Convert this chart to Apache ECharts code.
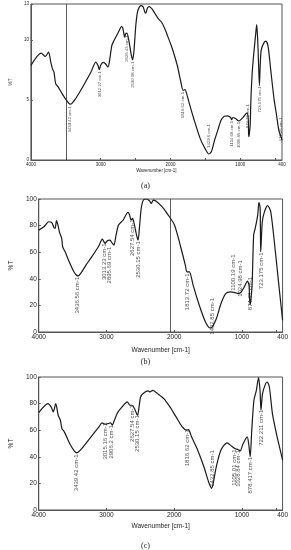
<!DOCTYPE html>
<html><head><meta charset="utf-8">
<script src="https://cdn.jsdelivr.net/npm/echarts@6/dist/echarts.min.js"></script>
<style>html,body{margin:0;padding:0;background:#fff}#c{width:291px;height:550px}</style>
</head><body><div id="c"></div>
<script>
// ---- Panel (a) spectrum ----
const wnA = [4000,3853,3793,3747,3715,3692,3669,3645,3609,3553,3507,3461,3438,3415,3369,3300,3231,3139,3070,3038,3019,3001,2964,2932,2895,2872,2840,2808,2771,2734,2702,2683,2656,2642,2623,2596,2564,2541,2522,2494,2467,2425,2393,2366,2352,2329,2301,2264,2218,2172,2126,2080,2034,1988,1942,1896,1850,1818,1790,1767,1735,1666,1574,1505,1449,1413,1366,1320,1274,1228,1182,1136,1122,1104,1067,1021,998,952,915,897,883,879,874,865,856,846,828,805,777,763,750,736,724,713,699,662,630,598,561,515,478,446,423,400];
const tA = [7.88,8.91,8.63,8.99,8.16,7.61,7.33,6.36,6.09,5.53,5.12,4.76,4.65,4.70,5.03,5.67,6.36,7.33,8.16,7.88,7.52,7.88,8.13,8.02,7.75,8.30,9.54,9.96,10.37,10.79,11.12,11.01,10.24,10.51,10.57,9.96,8.85,8.35,9.13,11.34,12.45,12.86,12.78,12.31,12.23,12.67,12.78,12.59,12.17,11.76,11.48,10.93,10.24,9.54,8.71,7.75,6.50,5.81,5.86,5.53,4.84,3.46,1.80,0.97,0.50,0.69,1.66,2.49,3.32,3.65,3.68,3.54,3.37,3.54,3.46,3.26,3.32,3.60,3.87,3.93,3.32,2.21,1.94,2.35,2.90,4.98,7.19,8.85,10.51,11.29,10.24,8.0,6.2,7.75,9.13,9.74,9.90,9.41,7.47,5.12,3.73,2.49,2.07,1.66];
const annAx = [3438,3019,2623,2541,1818,1449,1122,1012,883,724,423];
const annAy = [4.48,7.41,10.37,8.2,5.67,2.99,3.26,3.18,4.65,6.14,3.54];
const annAt = ['3439.42 cm-1','3012.27 cm-1','2626.43 cm-1','2530.08 cm-1','1816.62 cm-1','1429.6 cm-1','1114.68 cm-1','1006.66 cm-1','874.71 cm-1','723.175 cm-1','417.26 cm-1'];
const vLineA = 3500;
const yTicksA = [0,5,10,13];

// ---- Panel (b) spectrum ----
const wnB = [4000,3922,3853,3807,3775,3757,3739,3716,3693,3661,3647,3610,3555,3486,3441,3418,3372,3303,3234,3120,3060,3037,3019,2996,2950,2913,2890,2858,2822,2753,2684,2661,2638,2615,2592,2556,2533,2510,2487,2455,2409,2363,2340,2308,2271,2180,2088,1996,1905,1836,1813,1776,1721,1630,1538,1469,1437,1377,1309,1240,1171,1102,1057,1011,965,919,896,887,878,868,850,827,804,767,749,731,723,699,667,621,575,506,460,400];
const tB = [76.6,79.1,82.9,82.2,78.4,77.9,83.7,80.4,74.9,70.4,64.1,60.3,53.3,45.7,42.7,42.2,44.7,50.3,55.3,64.1,69.8,67.8,66.6,68.3,69.1,66.6,65.3,72.9,80.4,84.2,89.9,88.4,84.2,85.4,81.7,72.9,69.1,80.4,93.0,99.2,100,98.5,96.7,99.2,98.5,94.2,87.9,80.4,64.1,50.3,45.2,45.2,35.2,20.1,7.5,3.0,3.8,10.1,21.4,28.9,30.2,29.6,28.9,30.2,33.9,38.2,35.2,25.1,20.6,23.9,35.2,72.9,77.9,87.9,97.5,93.0,60.3,82.9,90.5,95.0,90.5,60.3,37.7,8.8];
const annBx = [3428,3028,2959,2611,2533,1813,1437,1120,1028,883,717];
const annBy = [41.5,66.6,64.1,84.7,68.3,44.0,25.6,58.3,54.0,41.5,59.8];
const annBt = ['3436.56 cm-1','3013.23 cm-1','2895.69 cm-1','2627.54 cm-1','2530.15 cm-1','1813.72 cm-1','1432.85 cm-1','1100.19 cm-1','1024.98 cm-1','874.71 cm-1','723.175 cm-1'];
const vLineB = 2060;

// ---- Panel (c) spectrum ----
const wnC = [4000,3863,3818,3786,3749,3713,3681,3658,3622,3544,3476,3439,3385,3248,3111,3066,3020,2975,2938,2915,2883,2838,2769,2692,2655,2619,2587,2541,2519,2496,2450,2382,2359,2314,2245,2154,2063,1972,1881,1812,1789,1744,1653,1562,1493,1448,1425,1379,1311,1220,1151,1106,1060,1024,992,923,901,878,855,823,787,755,733,719,696,650,627,595,550,491,446,400];
const tC = [73.25,80,77.5,73.75,80,71.25,67.5,61.25,58.75,50,44.5,43,45,53.75,62.5,65.5,64.5,65,65.5,63.75,67.5,73,77.5,81.25,78.75,78.75,76.25,71.25,77.5,85,88,89.5,88.8,90,87.5,83.75,77.5,70,62.5,60,60.5,55,45,32.5,21.25,16.25,20,32.5,45,50.5,48,46.25,45.5,44.5,48.75,55,50,40,60,82.5,90,99.5,90,75,87.5,95,96.25,92.5,72.5,57.5,47.5,37.5];
const annCx = [3439,3020,2929,2619,2542,1813,1434,1106,1052,878,719];
const annCy = [41.75,65.5,63.75,78.75,71.25,60.5,45,45.5,45,40,75.5];
const annCt = ['3439.42 cm-1','3015.16 cm-1','2906.2 cm-1','2627.54 cm-1','2530.15 cm-1','1816.62 cm-1','1432.85 cm-1','1105.01 cm-1','1028.84 cm-1','878.417 cm-1','722.211 cm-1'];

const xLabelVals = [4000,3000,2000,1000,400];
const xTickValsA = [4000,3500,3000,2500,2000,1500,1000,500];
const xTickValsBC = [4000,3000,2000,1000,500];
const captions = ['(a)','(b)','(c)'];
const xName = 'Wavenumber [cm-1]';
const yName = '%T';

const pairs = (xs, ys) => xs.map((x, i) => [x, ys[i]]);
const ann = (xs, ys, ts) => xs.map((x, i) => ({ value: [x, ys[i]], label: { formatter: ts[i] } }));

const font = 'Arial, "Liberation Sans", sans-serif';
const grids = [
  { left: 21, right: 9, top: 4, height: 156 },
  { left: 21, right: 8, top: 199, height: 133 },
  { left: 22, right: 6, top: 377, height: 133 }
];
const lblSize = [4.5, 6.5, 6.5];
const annSize = [4.3, 6, 6];

function xAxis(i) {
  return {
    gridIndex: i, type: 'value', inverse: true, min: 400, max: 4000,
    name: xName, nameLocation: 'middle', nameGap: [8, 15, 13][i],
    nameTextStyle: { fontSize: [4.5, 6.5, 6.5][i], color: '#222', fontFamily: font },
    axisLine: { lineStyle: { color: '#555', width: 1 } },
    axisTick: { show: true, inside: true, length: 2, customValues: i === 0 ? xTickValsA : xTickValsBC, lineStyle: { color: '#555' } },
    axisLabel: { customValues: xLabelVals, formatter: v => String(v), fontSize: lblSize[i], color: '#222', margin: 2, fontFamily: font },
    splitLine: { show: false }
  };
}
function yAxis(i) {
  const base = {
    gridIndex: i, type: 'value', min: 0,
    name: yName, nameLocation: 'middle', nameGap: [10, 14, 14][i],
    nameTextStyle: { fontSize: [4.5, 6.5, 6.5][i], color: '#222', fontFamily: font },
    axisLine: { show: true, lineStyle: { color: '#555', width: 1 } },
    axisTick: { show: true, inside: true, length: 2, lineStyle: { color: '#555' } },
    axisLabel: { fontSize: lblSize[i], color: '#222', margin: 2, fontFamily: font },
    splitLine: { show: false }
  };
  if (i === 0) { base.max = 13; base.axisLabel.customValues = yTicksA; base.axisTick.customValues = yTicksA; }
  else { base.max = 100; base.interval = 20; }
  return base;
}
function lineSeries(i, data, vline) {
  const s = {
    type: 'line', xAxisIndex: i, yAxisIndex: i, data: data, showSymbol: false, smooth: 0.25,
    lineStyle: { color: '#1a1a1a', width: 1.2 }, silent: true, animation: false
  };
  if (vline != null) {
    s.markLine = { symbol: 'none', silent: true, label: { show: false }, animation: false,
      lineStyle: { color: '#333', width: 0.8, type: 'solid' }, data: [{ xAxis: vline }] };
  }
  return s;
}
function annSeries(i, data) {
  return {
    type: 'scatter', xAxisIndex: i, yAxisIndex: i, data: data, symbolSize: 0.1, silent: true, animation: false,
    itemStyle: { color: 'transparent' }, z: 5,
    label: { show: true, position: 'inside', rotate: 90, align: 'right', verticalAlign: 'middle',
      fontSize: annSize[i], color: '#222', fontFamily: font }
  };
}

const chart = echarts.init(document.getElementById('c'), null, { renderer: 'canvas' });
chart.setOption({
  animation: false,
  backgroundColor: '#fff',
  title: captions.map((t, i) => ({ text: t, left: 'center', top: [177, 353, 537][i],
    textStyle: { fontSize: 8, fontWeight: 'normal', color: '#222', fontFamily: '"Liberation Serif", serif' } })),
  grid: grids.map(g => Object.assign({ show: true, borderColor: '#555', borderWidth: 1, backgroundColor: 'transparent' }, g)),
  xAxis: [0, 1, 2].map(xAxis),
  yAxis: [0, 1, 2].map(yAxis),
  series: [
    lineSeries(0, pairs(wnA, tA), vLineA),
    lineSeries(1, pairs(wnB, tB), vLineB),
    lineSeries(2, pairs(wnC, tC), null),
    annSeries(0, ann(annAx, annAy, annAt)),
    annSeries(1, ann(annBx, annBy, annBt)),
    annSeries(2, ann(annCx, annCy, annCt))
  ]
});
</script></body></html>
